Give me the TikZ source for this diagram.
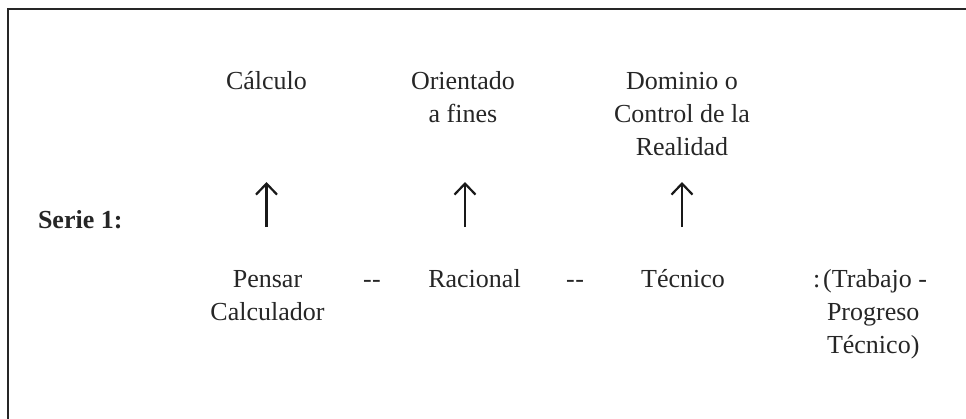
\documentclass[tikz,border=0pt]{standalone}
\usepackage{fontspec}
\setmainfont{Liberation Serif}
\usetikzlibrary{arrows.meta}
\begin{document}
\begin{tikzpicture}[x=1pt,y=-1pt,
  txt/.style={inner sep=0pt,outer sep=0pt,font=\fontsize{26}{33}\selectfont,align=center,text=black!85},
  up/.style={line width=2.2pt,draw=black!90,-{Straight Barb[length=11pt,width=21pt,line width=2.2pt]}},
  frame/.style={line width=1.4pt,draw=black!85}]
\useasboundingbox (0,0) rectangle (966,418);
\draw[frame] (8,430) -- (8,9) -- (980,9);
% top row (base anchor = last line baseline)
\node[txt,anchor=base] (c1) at (266.5,89) {Cálculo};
\node[txt,anchor=base] (c2) at (463,122) {Orientado\\a fines};
\node[txt,anchor=base] (c3) at (682,155) {Dominio o\\Control de la\\Realidad};
% label
\node[txt,anchor=base west,font=\fontsize{26}{33}\selectfont\bfseries] (s1) at (38,228) {Serie 1:};
% bottom row
\node[txt,anchor=base] (b1) at (267.5,320) {Pensar\\Calculador};
\node[txt,anchor=base] (d1) at (372,287) {-\kern0.5pt-};
\node[txt,anchor=base] (b2) at (474.5,287) {Racional};
\node[txt,anchor=base] (d2) at (575,287) {-\kern0.5pt-};
\node[txt,anchor=base] (b3) at (683,287) {Técnico};
\node[txt,anchor=base west] (t1) at (813,287) {:\kern3pt(Trabajo -};
\node[txt,anchor=base west,align=left] (t2) at (827,353) {Progreso\\Técnico)};
% arrows
\coordinate (a1s) at (266.5,227); \coordinate (a1e) at (266.5,182);
\coordinate (a2s) at (465,227); \coordinate (a2e) at (465,182);
\coordinate (a3s) at (682,227); \coordinate (a3e) at (682,182);
\draw[up] (a1s) -- (a1e);
\draw[up] (a2s) -- (a2e);
\draw[up] (a3s) -- (a3e);
\end{tikzpicture}
\end{document}
